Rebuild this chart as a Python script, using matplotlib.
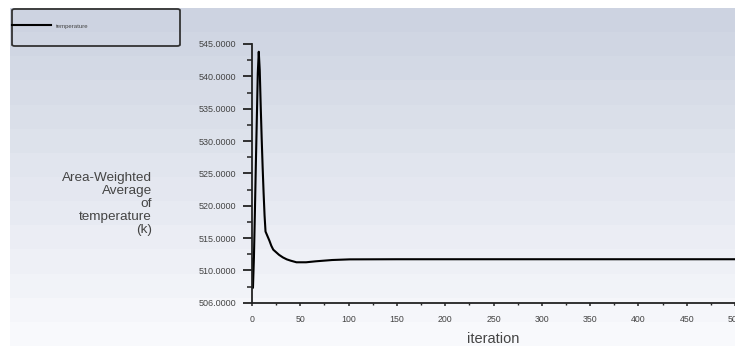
import numpy as np
import matplotlib
matplotlib.use("Agg")
import matplotlib.pyplot as plt
from matplotlib.patches import FancyBboxPatch
from matplotlib.lines import Line2D

plt.rcParams["font.family"] = ["Liberation Sans", "DejaVu Sans"]

# Monitor history: area-weighted average of temperature per iteration
iteration = [0, 1, 2, 3, 4, 5, 6, 7, 8, 9, 10, 11, 12, 13, 14, 16, 18, 20,
             22, 25, 28, 32, 36, 40, 46, 56, 66, 83, 101, 150, 250, 350, 500]
temperature = [511.8, 507.3, 512.0, 519.0, 526.5, 533.5, 540.5, 543.8, 541.0,
               535.5, 530.5, 526.0, 522.0, 518.5, 516.0, 515.3, 514.6, 513.8,
               513.2, 512.8, 512.4, 512.0, 511.7, 511.5, 511.25, 511.25, 511.4,
               511.6, 511.7, 511.72, 511.72, 511.72, 511.72]

y_ticks = [505, 510, 515, 520, 525, 530, 535, 540, 545]
y_tick_labels = ["506.0000", "510.0000", "515.0000", "520.0000", "525.0000",
                 "530.0000", "535.0000", "540.0000", "545.0000"]
x_ticks = [0, 50, 100, 150, 200, 250, 300, 350, 400, 450, 500]
series_name = "temperature"

W, H = 735, 346
fig = plt.figure(figsize=(W / 100, H / 100), dpi=100)
fig.patch.set_facecolor("white")

# banded blue-grey to white backdrop
bg = fig.add_axes([10 / W, 0, 1 - 10 / W, 1 - 8 / H], zorder=0)
bands = np.linspace(0, 1, 14)
top = np.array([0.805, 0.830, 0.885])
bottom = np.array([0.975, 0.978, 0.990])
cols = np.array([top + (bottom - top) * t for t in bands])
bg.imshow(cols[:, None, :], aspect="auto", interpolation="nearest",
          extent=[0, 1, 0, 1])
bg.set_axis_off()

ax = fig.add_axes([252 / W, 1 - 302.7 / H, (W - 252) / W, (302.7 - 44) / H],
                  zorder=2)
ax.patch.set_alpha(0)
ax.plot(iteration, temperature, color="black", lw=1.5, solid_joinstyle="round")

ax.set_xlim(0, 500)
ax.set_ylim(505, 545)
ax.set_xticks(x_ticks)
ax.set_xticks(np.arange(25, 500, 50), minor=True)
ax.set_yticks(y_ticks)
ax.set_yticklabels(y_tick_labels)
ax.set_yticks(np.arange(507.5, 545, 5), minor=True)

for s in ("top", "right"):
    ax.spines[s].set_visible(False)
for s in ("left", "bottom"):
    ax.spines[s].set_linewidth(1.3)
    ax.spines[s].set_color("#222222")

ax.tick_params(axis="y", which="major", direction="out", length=6.5, width=1.3,
               pad=5, labelsize=6.5, labelcolor="#444444", color="#222222")
ax.tick_params(axis="y", which="minor", direction="out", length=3.5, width=1.1,
               color="#222222")
ax.tick_params(axis="x", which="major", direction="out", length=2.5, width=1.1,
               pad=6, labelsize=6.3, labelcolor="#444444", color="#222222")
ax.tick_params(axis="x", which="minor", direction="out", length=1.5, width=1.0,
               color="#222222")

ax.set_xlabel("iteration", fontsize=10.5, color="#444444", labelpad=6)

fig.text(152 / W, 1 - 204 / H,
         "Area-Weighted\nAverage\nof\ntemperature\n(k)",
         ha="right", va="center", multialignment="right",
         fontsize=9.7, color="#444444", linespacing=1.1)

# legend frame
box = FancyBboxPatch((12 / W, 1 - 46 / H), 168 / W, 37 / H,
                     boxstyle="round,pad=0,rounding_size=0.004",
                     transform=fig.transFigure, facecolor="none",
                     edgecolor="#333333", linewidth=1.3, zorder=3)
fig.patches.append(box)
handle = Line2D([], [], color="black", lw=1.5)
leg = fig.legend([handle], [series_name], loc="center left",
                 bbox_to_anchor=(12 / W, 1 - 26 / H), frameon=False,
                 fontsize=4.3, handlelength=6.5, handletextpad=0.8,
                 borderaxespad=0, borderpad=0)
for t in leg.get_texts():
    t.set_color("#444444")

fig.savefig("out.png", dpi=100)
